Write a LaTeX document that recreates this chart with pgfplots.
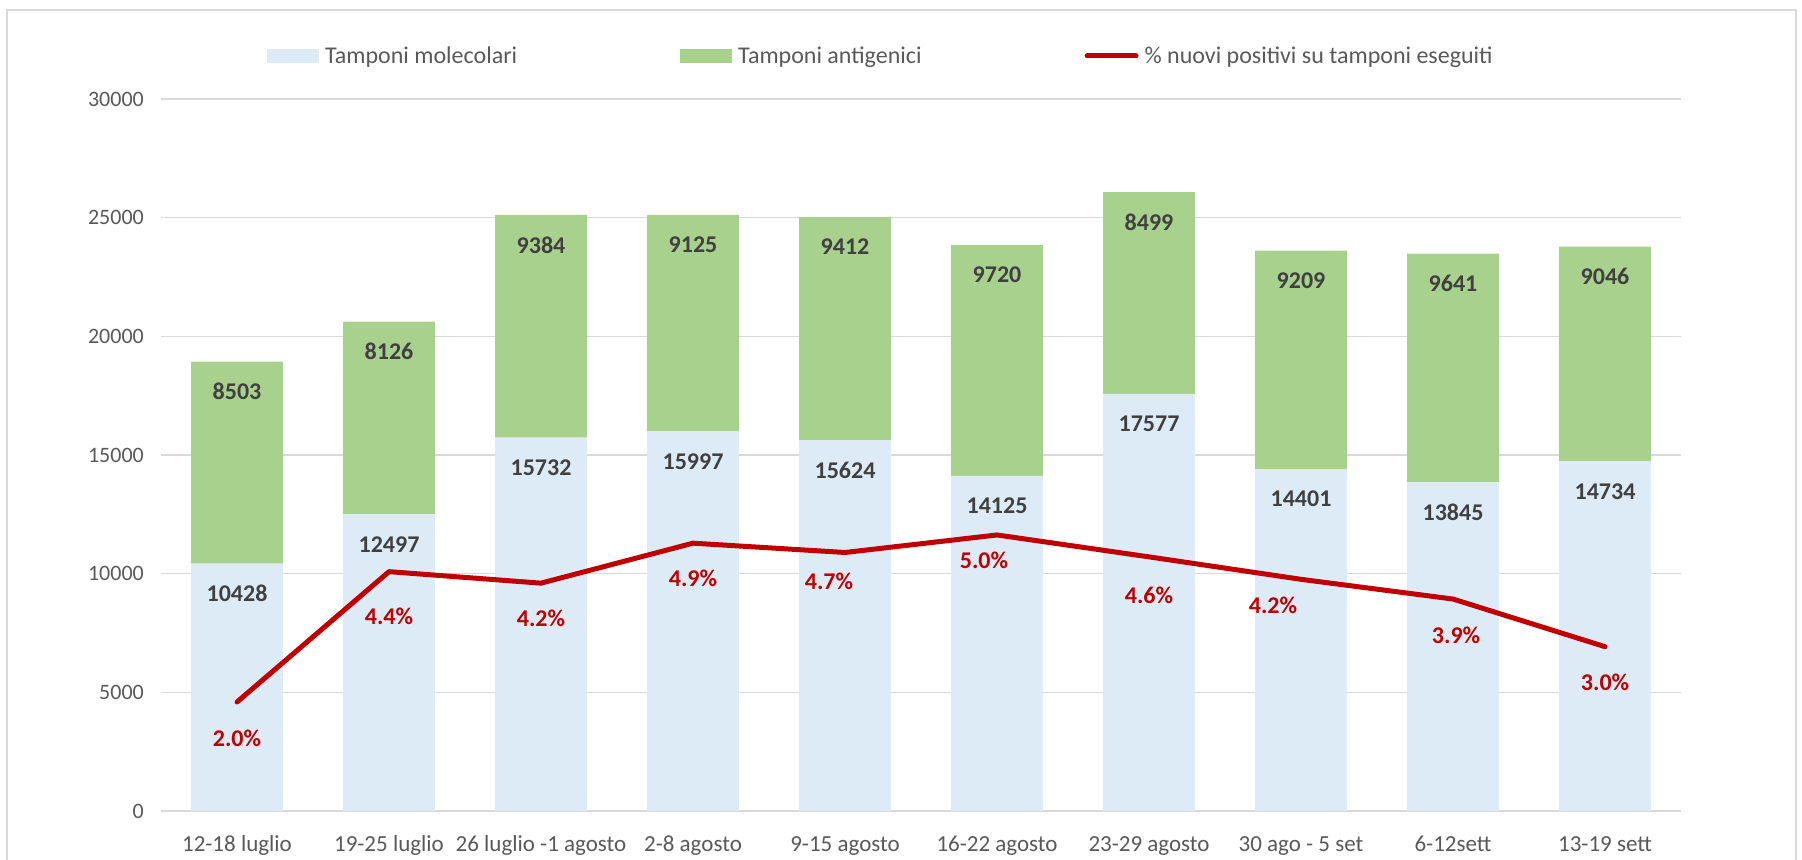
\documentclass[border=0pt]{standalone}
\usepackage{fontspec}
\setmainfont{Carlito}
\usepackage{pgfplots}
\pgfplotsset{compat=1.18}
\usepackage{pgfplotstable}
\definecolor{mol}{HTML}{DDEBF7}
\definecolor{ant}{HTML}{A9D18E}
\definecolor{lin}{HTML}{C00000}
\definecolor{txt}{HTML}{595959}
\definecolor{lab}{HTML}{404040}
\definecolor{grd}{HTML}{D9D9D9}

\pgfplotstableread{
x mol ant
0 10428 8503
1 12497 8126
2 15732 9384
3 15997 9125
4 15624 9412
5 14125 9720
6 17577 8499
7 14401 9209
8 13845 9641
9 14734 9046
}\bars

% pct = positive share; dy, dx = label offset in pixels
\pgfplotstableread{
x pct dy dx
0 1.99 36 0
1 4.37 45 0
2 4.16 35 0
3 4.89 35 0
4 4.72 29 -16
5 5.04 25 -13
6 4.64 38 0
7 4.23 26 -28
8 3.87 36 3
9 3.00 36 0
}\pos

\pgfplotsset{
  common/.style={at={(161bp,49bp)}, anchor=south west,
    width=1520bp, height=712bp, scale only axis,
    xmin=-0.5, xmax=9.5},
}

\begin{document}
\begin{tikzpicture}
\path[use as bounding box] (0bp,0bp) rectangle (1802bp,860bp);
\draw[grd, line width=1.3bp] (7bp,-5bp) -- (7bp,850bp) -- (1796bp,850bp) -- (1796bp,-5bp);
\begin{axis}[
  common, ymin=0, ymax=30000,
  ybar stacked, bar width=0.605,
  ytick={0,5000,...,30000},
  xtick={0,...,9},
  xticklabels={12-18 luglio, 19-25 luglio, 26 luglio -1 agosto, 2-8 agosto, 9-15 agosto, 16-22 agosto, 23-29 agosto, 30 ago - 5 set, 6-12sett, 13-19 sett},
  scaled y ticks=false,
  /pgf/number format/1000 sep={},
  /pgf/number format/assume math mode=true,
  axis line style={draw=none},
  major tick length=0pt,
  ymajorgrids, major grid style={grd, line width=1.3bp},
  yticklabel style={anchor=east, xshift=-17bp, inner sep=0pt, font=\fontsize{22bp}{26bp}\selectfont, text=txt},
  xticklabel style={anchor=base, yshift=-40bp, inner sep=0pt, font=\fontsize{23bp}{27bp}\selectfont, text=txt},
  legend columns=3,
  legend style={at={(0.0697,1.0604)}, anchor=west, draw=none, fill=none, inner sep=0pt,
    font=\fontsize{24bp}{28bp}\selectfont, text=txt,
    nodes={inner sep=0pt},
    /tikz/every even column/.append style={column sep=163bp},
    /tikz/every odd column/.append style={column sep=6bp}},
]
\addplot[fill=mol, draw=none,
  legend image code/.code={\fill[mol] (0bp,-7bp) rectangle (52bp,7bp);}]
  table[x=x, y=mol] {\bars};
\addlegendentry{Tamponi molecolari}
\addplot[fill=ant, draw=none,
  legend image code/.code={\fill[ant] (0bp,-7bp) rectangle (52bp,7bp);}]
  table[x=x, y=ant] {\bars};
\addlegendentry{Tamponi antigenici}
\addlegendimage{legend image code/.code={\draw[lin, line width=5bp, line cap=round] (2bp,0bp) -- (51bp,0bp);}}
\addlegendentry{\% nuovi positivi su tamponi eseguiti}
\end{axis}
% bar value labels (inside end of each segment)
\begin{axis}[
  common, ymin=0, ymax=30000, hide axis, clip=false,
]
\addplot[draw=none, mark=none, point meta=explicit symbolic,
  nodes near coords,
  nodes near coords style={anchor=center, yshift=-30bp, font=\fontsize{24bp}{27bp}\selectfont\bfseries, text=lab}]
  table[x=x, y=mol, meta=mol] {\bars};
\addplot[draw=none, mark=none, point meta=explicit symbolic,
  nodes near coords,
  nodes near coords style={anchor=center, yshift=-30bp, font=\fontsize{24bp}{27bp}\selectfont\bfseries, text=lab}]
  table[x=x, y expr=\thisrow{mol}+\thisrow{ant}, meta=ant] {\bars};
\end{axis}
% percentage line on hidden secondary axis
\begin{axis}[
  common, ymin=0, ymax=13,
  hide axis, clip=false,
  /pgf/number format/assume math mode=true,
]
\addplot[lin, line width=5bp, line cap=round, line join=round, mark=none]
  table[x=x, y=pct] {\pos};
\addplot[draw=none, mark=none,
  point meta=explicit,
  nodes near coords={\pgfmathprintnumber[fixed,zerofill,precision=1,assume math mode=true]{\pgfplotspointmeta}\%},
  nodes near coords style={anchor=center, font=\fontsize{24bp}{27bp}\selectfont\bfseries, text=lin}]
  table[x expr=\thisrow{x}+\thisrow{dx}/152, y expr=\thisrow{pct}-\thisrow{dy}*13/712, meta=pct] {\pos};
\end{axis}
\end{tikzpicture}
\end{document}
